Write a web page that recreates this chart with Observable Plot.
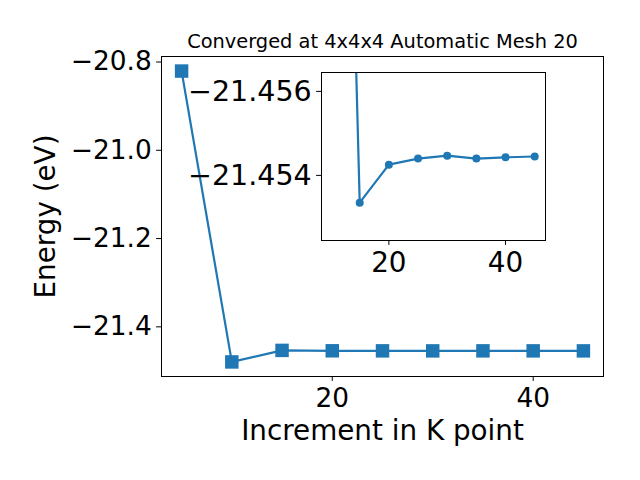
<!DOCTYPE html>
<html>
<head>
<meta charset="utf-8">
<script src="https://cdn.jsdelivr.net/npm/d3@7"></script>
<script src="https://cdn.jsdelivr.net/npm/@observablehq/plot@0.6"></script>
<style>
  body { margin: 0; background: white; }
  #wrap { position: relative; width: 640px; height: 480px; overflow: hidden; }
  #wrap svg { position: absolute; }
</style>
</head>
<body>
<div id="wrap"></div>
<script>
const kpoints = [5, 10, 15, 20, 25, 30, 35, 40, 45];
const energy = [-20.8205, -21.4795, -21.45335, -21.454255, -21.4544, -21.45447, -21.4544, -21.45443, -21.45445];
const insetStart = 1;
const xTicks = [20, 40];
const yTicks = [-20.8, -21.0, -21.2, -21.4];
const insetXTicks = [20, 40];
const insetYTicks = [-21.456, -21.454];
const title = "Converged at 4x4x4 Automatic Mesh 20";
const xLabel = "Increment in K point";
const yLabel = "Energy (eV)";

const data = kpoints.map((k, i) => ({k, e: energy[i]}));
const insetData = data.slice(insetStart);
const blue = "#1f77b4";
const font = "DejaVu Sans";

const main = Plot.plot({
  width: 640, height: 480,
  marginLeft: 161, marginRight: 37, marginTop: 56, marginBottom: 104,
  style: {fontFamily: font, background: "transparent", color: "black", fontSize: "26.4px"},
  x: {domain: [3, 47]},
  y: {domain: [-21.5125, -20.7875]},
  marks: [
    Plot.axisX({ticks: xTicks, tickFormat: d => String(d), tickSize: 4.9, tickPadding: 7, label: null, fontSize: 26.4, stroke: "black"}),
    Plot.axisY({ticks: yTicks, tickFormat: d3.format(".1f"), tickSize: 4.9, tickPadding: 4.9, label: null, fontSize: 26.4, stroke: "black"}),
    Plot.line(data, {x: "k", y: "e", stroke: blue, strokeWidth: 2.2}),
    Plot.dot(data, {x: "k", y: "e", symbol: "square", r: 7.6, fill: blue, stroke: "none"}),
    Plot.frame({stroke: "black", strokeWidth: 1}),
    Plot.text([title], {frameAnchor: "top", dy: -15.2, lineAnchor: "middle", fontSize: 19.4, fill: "black"}),
    Plot.text([xLabel], {frameAnchor: "bottom", dy: 55, lineAnchor: "middle", fontSize: 27.8, fill: "black"}),
    Plot.text([yLabel], {frameAnchor: "left", dx: -115, rotate: -90, textAnchor: "middle", lineAnchor: "middle", fontSize: 27.8, fill: "black"})
  ]
});
main.style.left = "0px";
main.style.top = "0px";
document.getElementById("wrap").appendChild(main);

const inset = Plot.plot({
  width: 150 + 224 + 10, height: 10 + 168 + 45,
  marginLeft: 150, marginRight: 10, marginTop: 10, marginBottom: 45,
  style: {fontFamily: font, background: "transparent", color: "black", fontSize: "27.8px"},
  x: {domain: [8.45, 46.85]},
  y: {domain: [-21.45645, -21.45245], reverse: true},
  marks: [
    Plot.axisX({ticks: insetXTicks, tickFormat: d => String(d), tickSize: 4.9, tickPadding: 7, label: null, fontSize: 27.8, stroke: "black"}),
    Plot.axisY({ticks: insetYTicks, tickFormat: d3.format(".3f"), tickSize: 4.9, tickPadding: 4.9, label: null, fontSize: 28.5, stroke: "black"}),
    Plot.line(insetData, {x: "k", y: "e", stroke: blue, strokeWidth: 2.2, clip: true}),
    Plot.dot(insetData, {x: "k", y: "e", r: 4, fill: blue, stroke: "none", clip: true}),
    Plot.frame({stroke: "black", strokeWidth: 1})
  ]
});
inset.style.left = "171px";
inset.style.top = "62px";
document.getElementById("wrap").appendChild(inset);
</script>
</body>
</html>
